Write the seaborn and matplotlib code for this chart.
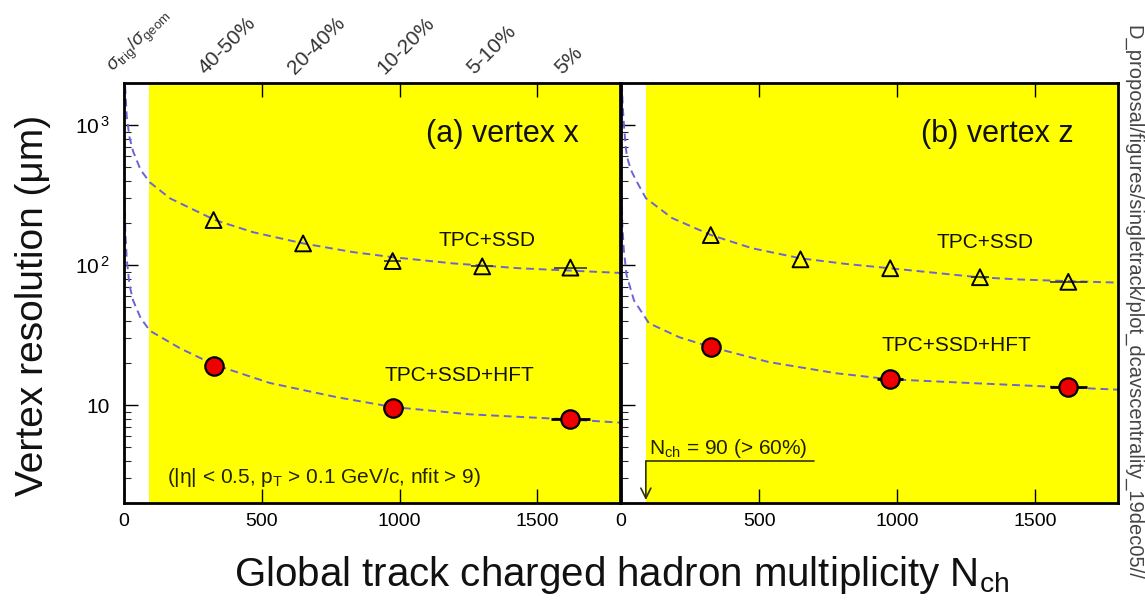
import numpy as np
import pandas as pd
import matplotlib
matplotlib.use("Agg")
import matplotlib.pyplot as plt
import matplotlib.transforms as mtransforms
from matplotlib.ticker import FixedLocator, FixedFormatter, LogLocator, NullFormatter
import seaborn as sns

# ---------------- data ----------------
centrality_labels = ["40-50%", "20-40%", "10-20%", "5-10%", "5%"]
nch_points = [325, 650, 975, 1300, 1620]

# (a) vertex x
x_tpcssd_vals = [210, 143, 107, 98, 96]
x_tpcssd_xerr = [0, 0, 30, 40, 60]
hft_nch = [325, 975, 1620]
x_hft_vals = [19, 9.6, 7.9]
x_hft_xerr = [0, 36, 70]

# (b) vertex z
z_tpcssd_vals = [164, 110, 95, 82, 76]
z_tpcssd_xerr = [0, 0, 0, 33, 66]
z_hft_vals = [26, 15.3, 13.4]
z_hft_xerr = [0, 48, 66]

# fit curves
fitx_tpcssd_n = [4, 10, 20, 33, 60, 94, 167, 330, 468, 650, 830, 975, 1192, 1435, 1800]
fitx_tpcssd_v = [1900, 1150, 820, 650, 480, 390, 300, 210, 172, 143, 124, 114, 103, 95, 88]
fitx_hft_n = [2, 5, 10, 20, 33, 60, 94, 203, 326, 529, 772, 975, 1254, 1620, 1800]
fitx_hft_v = [300, 170, 110, 72, 56, 42, 34, 25.5, 19.5, 14.4, 11.4, 9.7, 8.6, 7.9, 7.5]
fitz_tpcssd_n = [3, 6, 11, 17, 22, 36, 54, 90, 185, 326, 475, 649, 815, 974, 1141, 1293, 1442, 1612, 1800]
fitz_tpcssd_v = [2000, 1400, 980, 700, 590, 478, 405, 301, 217, 164, 132, 112, 102, 95, 88, 82, 79, 77, 75]
fitz_hft_n = [2, 5, 10, 20, 47, 101, 210, 326, 536, 779, 974, 1261, 1612, 1800]
fitz_hft_v = [320, 190, 130, 85, 56, 38.5, 30.6, 26, 20.3, 16.9, 15.3, 14.4, 13.4, 12.9]

x_ticks = [0, 500, 1000, 1500]
y_ticks = [10, 100, 1000]
y_ticklabels = ["10", r"$10^{\,2}$", r"$10^{\,3}$"]

# ---------------- style ----------------
sns.set_theme(style="ticks")
plt.rcParams["font.family"] = ["Liberation Sans", "DejaVu Sans"]
plt.rcParams["mathtext.fontset"] = "custom"
plt.rcParams["mathtext.rm"] = "Liberation Sans"
plt.rcParams["mathtext.it"] = "Liberation Sans:italic"
plt.rcParams["mathtext.bf"] = "Liberation Sans:bold"

W, H = 1145, 607
fig = plt.figure(figsize=(W / 100, H / 100), dpi=100)
fig.patch.set_facecolor("white")
axL = fig.add_axes([124 / W, 104 / H, 496 / W, 420 / H])
axR = fig.add_axes([621 / W, 104 / H, 497 / W, 420 / H])

LINE_COLOR = "#6b64d8"


def setup(ax, show_ylabels):
    ax.set_facecolor("#ffff00")
    ax.axvspan(0, 90, color="white", zorder=0.5, lw=0)
    ax.set_yscale("log")
    ax.set_xlim(0, 1800)
    ax.set_ylim(2, 2000)
    for s in ax.spines.values():
        s.set_linewidth(2)
        s.set_color("black")
        s.set_visible(True)
    ax.xaxis.set_major_locator(FixedLocator(x_ticks))
    ax.set_xticklabels([str(t) for t in x_ticks])
    ax.yaxis.set_major_locator(FixedLocator(y_ticks))
    ax.yaxis.set_minor_locator(LogLocator(base=10, subs=np.arange(2, 10)))
    ax.yaxis.set_minor_formatter(NullFormatter())
    if show_ylabels:
        ax.yaxis.set_major_formatter(FixedFormatter(y_ticklabels))
    else:
        ax.yaxis.set_major_formatter(NullFormatter())
    ax.tick_params(axis="x", which="major", direction="in", top=True, bottom=True,
                   length=10, width=1, labelsize=14, pad=7, colors="black")
    ax.tick_params(axis="y", which="major", direction="in", left=True, right=False,
                   length=10, width=1, labelsize=15, pad=10, colors="black")
    ax.tick_params(axis="y", which="minor", direction="in", left=True, right=False,
                   length=5, width=0.8)
    ax.set_xlabel("")
    ax.set_ylabel("")


def draw_panel(ax, tpc_vals, tpc_xerr, hft_vals, hft_xerr, fit1n, fit1v, fit2n, fit2v):
    sns.lineplot(x=fit1n, y=fit1v, ax=ax, color=LINE_COLOR, lw=1.4,
                 linestyle=(0, (4, 2.5)), estimator=None, sort=False, zorder=2, legend=False)
    sns.lineplot(x=fit2n, y=fit2v, ax=ax, color=LINE_COLOR, lw=1.4,
                 linestyle=(0, (4, 2.5)), estimator=None, sort=False, zorder=2, legend=False)
    ax.errorbar(nch_points, tpc_vals, xerr=tpc_xerr, fmt="none", ecolor="#333333",
                elinewidth=1.2, capsize=0, zorder=3)
    ax.errorbar(hft_nch, hft_vals, xerr=hft_xerr, fmt="none", ecolor="black",
                elinewidth=2.0, capsize=0, zorder=3)
    sns.scatterplot(x=nch_points, y=tpc_vals, ax=ax, marker="^", s=130,
                    facecolors="none", edgecolor="black", linewidth=1.4, zorder=4, legend=False)
    sns.scatterplot(x=hft_nch, y=hft_vals, ax=ax, marker="o", s=175,
                    color="#ee0000", edgecolor="black", linewidth=1.6, zorder=5, legend=False)


setup(axL, True)
setup(axR, False)
draw_panel(axL, x_tpcssd_vals, x_tpcssd_xerr, x_hft_vals, x_hft_xerr,
           fitx_tpcssd_n, fitx_tpcssd_v, fitx_hft_n, fitx_hft_v)
draw_panel(axR, z_tpcssd_vals, z_tpcssd_xerr, z_hft_vals, z_hft_xerr,
           fitz_tpcssd_n, fitz_tpcssd_v, fitz_hft_n, fitz_hft_v)
for ax in (axL, axR):
    ax.set_xlim(0, 1800)
    ax.set_ylim(2, 2000)
    ax.set_xlabel("")
    ax.set_ylabel("")

TXT = "#111111"
axL.text(1650, 870, "(a) vertex x", ha="right", va="center", fontsize=22, color=TXT)
axR.text(1641, 870, "(b) vertex z", ha="right", va="center", fontsize=22, color=TXT)
axL.text(1317, 151, "TPC+SSD", ha="center", va="center", fontsize=15, color=TXT)
axR.text(1318, 146, "TPC+SSD", ha="center", va="center", fontsize=15, color=TXT)
axL.text(1217, 16.4, "TPC+SSD+HFT", ha="center", va="center", fontsize=15, color=TXT)
axR.text(1215, 26.8, "TPC+SSD+HFT", ha="center", va="center", fontsize=15, color=TXT)
axL.text(155, 3.06, r"(|η| < 0.5, p$_{\rm T}$ > 0.1 GeV/c, nfit > 9)",
         ha="left", va="center", fontsize=15, color="#222200")
axR.text(100, 4.93, r"N$_{\rm ch}$ = 90 (> 60%)", ha="left", va="center",
         fontsize=15, color="#222200")
axR.plot([90, 700], [3.98, 3.98], color="#333300", lw=1.2, zorder=3)
axR.annotate("", xy=(90, 2.1), xytext=(90, 3.98),
             arrowprops=dict(arrowstyle="->", color="#333300", lw=1.2,
                             shrinkA=0, shrinkB=0, mutation_scale=18))

# centrality labels above the left panel
trans = mtransforms.blended_transform_factory(axL.transData, axL.transAxes) + \
    mtransforms.ScaledTranslation(-5 / 100, 0, fig.dpi_scale_trans)
axL.text(0, 1.012, r"$\sigma_{\rm trig}/\sigma_{\rm geom}$", transform=trans, rotation=45,
         rotation_mode="anchor", ha="left", va="bottom", fontsize=13.5, color="#333333")
for n, lab in zip(nch_points, centrality_labels):
    axL.text(n, 1.012, lab, transform=trans, rotation=45, rotation_mode="anchor",
             ha="left", va="bottom", fontsize=15, color="#333333")

# axis titles
fig.text(33 / W, 1 - 305 / H, "Vertex resolution (μm)", rotation=90,
         ha="center", va="center", fontsize=28, color="#111111")
fig.text(622 / W, 1 - 575 / H, r"Global track charged hadron multiplicity N$_{\rm ch}$",
         ha="center", va="center", fontsize=29, color="#111111")

# file path on the right margin
fig.text(1133 / W, 1 - 302 / H, "D_proposal/figures/singletrack/plot_dcavscentrality_19dec05//",
         rotation=270, ha="center", va="center", fontsize=14.5, color="#444444")

fig.savefig("out.png", dpi=100)
